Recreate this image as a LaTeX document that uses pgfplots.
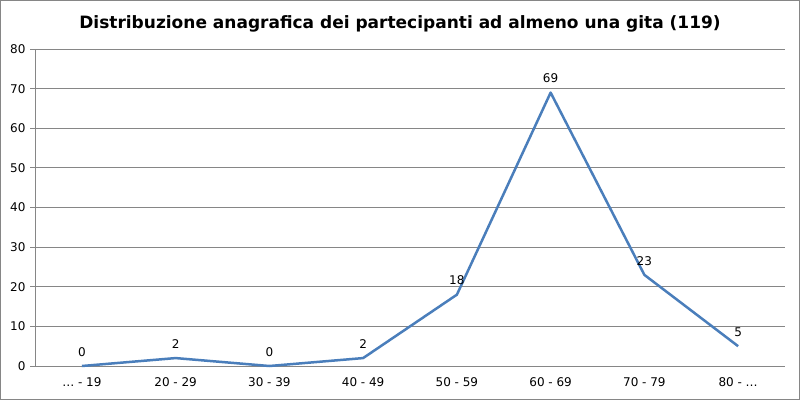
\documentclass[border=0pt]{standalone}
\usepackage{pgfplots}
\pgfplotsset{compat=1.18}
\usepackage{fontspec}
\setmainfont{DejaVu Sans}
\definecolor{linec}{HTML}{4A7EBB}
\definecolor{gridc}{HTML}{868686}
\begin{document}
\begin{tikzpicture}[x=1pt,y=1pt]
\useasboundingbox (0,0) rectangle (800,400);
\draw[gridc,line width=1pt] (0.5,0.5) rectangle (799.5,399.5);
\node[font=\fontsize{17}{20}\selectfont\bfseries] at (400,376) {Distribuzione anagrafica dei partecipanti ad almeno una gita (119)};
\begin{axis}[
  at={(35pt,34pt)}, anchor=origin,
  scale only axis, width=750pt, height=317pt,
  xmin=0, xmax=8, ymin=0, ymax=80,
  ytick={0,10,...,80},
  xtick={0.5,1.5,...,7.5},
  xticklabels={\dots\ - 19, 20 - 29, 30 - 39, 40 - 49, 50 - 59, 60 - 69, 70 - 79, 80 - \dots},
  minor xtick={1,2,...,7},
  extra x ticks={0,8}, extra x tick labels={},
  extra x tick style={major tick length=5pt, tick style={gridc}},
  xtick style={draw=none},
  minor tick length=5pt,
  minor x tick style={gridc, line width=0.8pt},
  ymajorgrids, major grid style={gridc, line width=0.8pt},
  ytick style={gridc, line width=0.8pt}, major tick length=5pt,
  tick align=outside,
  axis line style={gridc, line width=0.8pt},
  axis x line*=bottom, axis y line*=left,
  tick label style={font=\fontsize{12}{14}\selectfont},
  /pgf/number format/assume math mode=true,
  yticklabel style={xshift=-1pt},
  xticklabel style={yshift=-3pt},
  clip=false,
]
\addplot[linec, line width=2.5pt, line join=round,
  nodes near coords, every node near coord/.append style={font=\fontsize{12}{14}\selectfont, black, yshift=5pt}]
  coordinates {(0.5,0) (1.5,2) (2.5,0) (3.5,2) (4.5,18) (5.5,69) (6.5,23) (7.5,5)};
\end{axis}
\end{tikzpicture}
\end{document}
